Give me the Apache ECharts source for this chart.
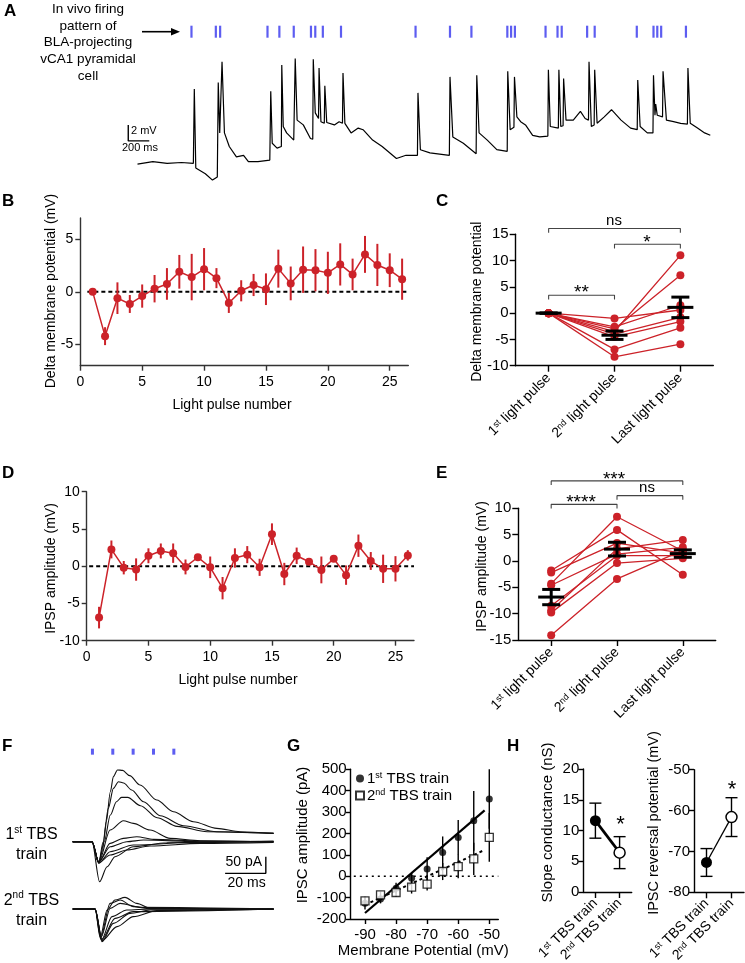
<!DOCTYPE html>
<html lang="en">
<head>
<meta charset="UTF-8">
<title>vCA1 BLA-projecting cell figure</title>
<script src="https://cdn.jsdelivr.net/npm/echarts@6.0.0/dist/echarts.min.js"></script>
<style>
    html, body { margin: 0; padding: 0; background: #fff; }
    #main { width: 745px; height: 963px; }
</style>
</head>
<body>
<div id="main"></div>
<script type="text/javascript">
// ---------- A: in vivo trace (ms, mV) ----------
var aTime = [0,146,282,419,532,541,555,646,714,760,769,783,800,805,828,874,942,1010,1056,1147,1260,1269,1283,1329,1370,1374,1388,1420,1488,1497,1502,1520,1579,1647,1669,1674,1693,1724,1729,1747,1779,1784,1802,1875,1920,1952,1957,1975,2034,2102,2148,2239,2330,2466,2557,2666,2671,2694,2785,2970,2976,3003,3103,3225,3231,3253,3331,3422,3521,3526,3549,3585,3590,3613,3649,3695,3763,3831,3908,3913,3931,4008,4013,4031,4053,4058,4081,4150,4218,4263,4295,4300,4322,4349,4354,4377,4445,4514,4605,4696,4759,4764,4787,4855,4909,4914,4928,4935,4950,5000,5005,5037,5105,5173,5237,5242,5264,5333,5401,5455];
var aVm = [-0.1,0.2,0.0,0.1,0.0,9.3,-0.6,-1.3,-2.1,-1.7,10.1,3.8,3.6,12.7,3.8,2.1,0.8,1.0,0.2,0.2,0.4,9.0,2.5,1.9,2.1,12.3,4.6,3.8,2.9,2.9,13.1,5.4,4.8,3.1,3.0,13.0,6.3,5.6,11.9,5.2,5.0,9.7,5.1,4.8,5.2,5.0,11.3,5.0,3.8,4.4,4.2,2.9,2.1,0.6,1.0,1.0,8.8,1.7,1.3,1.0,10.8,3.3,2.5,1.2,11.0,3.8,2.9,1.7,1.5,11.5,4.2,4.5,10.8,5.8,5.2,4.8,3.5,3.3,3.4,11.7,4.6,4.4,11.7,4.6,4.7,10.6,5.4,5.4,6.5,5.6,5.4,12.7,4.6,4.8,11.7,5.0,5.8,6.7,5.4,4.4,4.2,10.4,4.6,3.8,3.8,11.0,6.0,7.4,6.0,5.8,11.5,5.4,5.2,5.0,4.9,11.9,5.0,4.4,3.8,3.5];
var spikeTimes = [514,746,787,1238,1351,1488,1652,1693,1765,1938,2648,2976,3180,3522,3558,3594,3886,4000,4040,4282,4354,4755,4914,4950,4987,5223];

// ---------- B: delta membrane potential per pulse ----------
var pulseNum = [1,2,3,4,5,6,7,8,9,10,11,12,13,14,15,16,17,18,19,20,21,22,23,24,25,26];
var deltaVm = [0,-4.2,-0.6,-1.15,-0.4,0.3,0.75,1.9,1.4,2.15,1.3,-1.05,0.1,0.65,0.25,2.2,0.8,2.1,2.05,1.8,2.6,1.65,3.55,2.55,2.05,1.2];
var deltaVmSem = [0,0.85,1.5,0.85,1.1,1.3,1.5,1.6,2.2,2.0,0.95,0.95,1.0,1.05,1.5,1.8,1.6,2.2,2.0,2.0,2.0,1.5,1.75,2.0,1.6,1.95];

// ---------- C: paired cells ----------
var pulseCats = ['1st light pulse', '2nd light pulse', 'Last light pulse'];
var cFirst = [0,0,0,0,0,0,0,0];
var cSecond = [-3.5,-3.0,-1.0,-2.6,-4.0,-4.5,-6.9,-8.3];
var cLast = [11,7.2,0.6,1.5,-0.8,-1.6,-2.8,-5.9];
var cMean = [0,-4.2,1.1];
var cSem = [0,0.8,1.95];
var cBrackets = [[0,2,16.1,'ns'],[1,2,13.1,'*'],[0,1,3.4,'**']];

// ---------- D: IPSP amplitude per pulse ----------
var ipsp = [-6.9,2.25,-0.2,-0.45,1.4,2.05,1.75,-0.1,1.2,-0.15,-2.95,1.1,1.55,-0.15,4.3,-1.05,1.4,0.6,-0.5,1.0,-1.2,2.75,0.7,-0.35,-0.35,1.45];
var ipspSem = [1.45,1.2,0.9,1.5,1.0,1.0,1.3,1.0,0.25,1.45,1.5,1.3,1.15,1.15,1.45,1.5,1.1,0.2,1.8,0.3,1.3,1.5,1.2,1.9,1.7,0.7];

// ---------- E: paired IPSP ----------
var eFirst = [-4.3,-1.8,-2.2,-9.4,-4.6,-8.5,-9.8,-14.1];
var eSecond = [8.4,5.9,3.4,2.3,1.3,1.0,-0.4,-3.4];
var eLast = [1.9,-2.6,1.5,4.0,2.6,1.0,0.5,2.0];
var eMean = [-6.85,2.25,1.4];
var eSem = [1.45,1.3,0.7];
var eBrackets = [[0,2,15.2,'***'],[1,2,12.4,'ns'],[0,1,10.75,'****']];

// ---------- F: IPSC traces (ms, pA) ----------
var lightPulses = [9.7,19.7,29.7,39.7,49.7];
var train1 = [
    [[0,0],[9.5,0],[12.8,-62],[14.5,-30],[16.5,60],[18.5,150],[20,195],[22,215],[24.5,214],[28,198],[33.1,170],[41.3,125],[49.5,90],[59.3,60],[70.8,40],[82.3,30],[98.7,25]],
    [[0,0],[9.5,0],[12.8,-62],[15,0],[17.5,100],[20,160],[22.5,180],[25,176],[29,155],[34.8,120],[43,78],[54.4,48],[70.8,30],[98.7,25]],
    [[0,0],[9.5,0],[12.8,-62],[15.5,0],[18.5,80],[21.5,120],[24,133],[27,133],[33.3,108],[41.5,72],[51.3,46],[66.1,30],[98.7,25]],
    [[0,0],[9.5,0],[12.8,-62],[18.4,35],[24.9,63],[29.8,55],[38,35],[47.9,10],[62.6,3],[98.7,0]],
    [[0,0],[9.5,0],[12.8,-62],[18.4,-5],[24.9,10],[31.5,15],[39.7,7],[62.6,2],[98.7,0]],
    [[0,0],[9.5,0],[12.8,-60],[18.4,-15],[26.6,0],[34.8,5],[62.6,0],[98.7,0]],
    [[0,0],[9.5,0],[13.2,-120],[16.9,-75],[20.8,-45],[29.8,-15],[46.2,-3],[98.7,0]],
    [[0,0],[9.5,0],[12.8,-63],[18.4,-40],[26.6,-25],[38,-13],[62.6,-5],[98.7,-2]],
    [[0,0],[9.5,0],[12.8,-65],[18.4,-30],[29.8,-10],[62.6,-1],[98.7,2]]
];
var train2 = [
    [[0,0],[11,0],[13.6,-83],[16.9,-3],[20.8,27],[25.7,35],[31.5,17],[38,2],[98.7,0]],
    [[0,0],[11,0],[13.6,-88],[18.4,17],[23.3,27],[29.8,7],[39.7,0],[98.7,-1]],
    [[0,0],[11,0],[14.1,-93],[19.3,-23],[26.6,-3],[38,0],[98.7,0]],
    [[0,0],[11,0],[14.4,-98],[20,-43],[28.2,-13],[38,-3],[98.7,0]],
    [[0,0],[11,0],[14.4,-95],[21.8,-53],[29.8,-23],[41.3,-5],[98.7,0]],
    [[0,0],[11,0],[14.4,-91],[20.8,-28],[29.8,-8],[98.7,0]],
    [[0,0],[11,0],[14.1,-83],[18.4,2],[23.3,17],[33.1,5],[98.7,0]]
];

// ---------- G: I-V ----------
var vm = [-90,-85,-80,-75,-70,-65,-60,-55,-50];
var ipsc1 = [-126,-107,-56,-9,34,111,181,259,361];
var ipsc1Sem = [30,20,25,25,55,75,82,140,139];
var ipsc2 = [-115,-87,-76,-51,-37,22,45,81,182];
var ipsc2Sem = [15,15,20,30,30,40,55,75,114];
var fit1 = [[-90,-172],[-51.5,308]];
var fit2 = [[-90,-134],[-51.5,123]];

// ---------- H ----------
var tbsCats = ['1st TBS train', '2nd TBS train'];
var slopeG = [11.6, 6.4];
var slopeGSem = [2.85, 2.6];
var erev = [-72.7, -61.6];
var erevSem = [3.4, 4.75];

// ---------- helpers ----------
var FONT = '"Liberation Sans", Arial, Helvetica, sans-serif';
var RED = '#cc2229';
var BLUE = '#3434ee';

function supFmt(v) { return v.replace(/^(\d)(st|nd)/, '$1{s|$2}'); }
var supRich = { s: { fontSize: 9, verticalAlign: 'top', fontFamily: FONT, color: '#000', padding: [0, 0, 4, 0] } };

function valueAxis(grid, min, max, o) {
    o = o || {};
    var c = o.color || '#000';
    var ax = {
        gridIndex: grid, type: 'value', min: min, max: max,
        axisLine: { show: true, onZero: false, lineStyle: { color: c, width: o.lw || 1.4 } },
        axisTick: { show: true, inside: false, length: o.tick || 5, lineStyle: { color: c, width: o.lw || 1.4 } },
        axisLabel: { color: '#000', fontSize: o.fs || 14, fontFamily: FONT, margin: o.margin || 7 },
        splitLine: { show: false }
    };
    if (o.interval) ax.interval = o.interval;
    if (o.ticks) { ax.axisTick.customValues = o.ticks; ax.axisLabel.customValues = o.ticks; }
    return ax;
}
function catAxis(grid, cats, o) {
    o = o || {};
    return {
        gridIndex: grid, type: 'category', data: cats, boundaryGap: true,
        axisLine: { show: true, onZero: false, lineStyle: { color: '#000', width: 1.4 } },
        axisTick: { show: true, alignWithLabel: true, length: o.tick || 6, lineStyle: { color: '#000', width: 1.4 } },
        axisLabel: { rotate: 45, interval: 0, margin: o.margin || 10, color: '#000', fontSize: o.fs || 14, fontFamily: FONT,
                     formatter: supFmt, rich: supRich },
        splitLine: { show: false }
    };
}
function hiddenAxis(grid, min, max) { return { gridIndex: grid, type: 'value', min: min, max: max, show: false }; }

function errorBars(ax, data, color, width, capHalf, z) {
    return {
        type: 'custom', xAxisIndex: ax, yAxisIndex: ax, z: z || 3, silent: true, data: data,
        renderItem: function (p, api) {
            var x = api.value(0), y = api.value(1), e = api.value(2);
            var hi = api.coord([x, y + e]), lo = api.coord([x, y - e]);
            var st = { stroke: color, lineWidth: width };
            var ch = [{ type: 'line', shape: { x1: hi[0], y1: hi[1], x2: lo[0], y2: lo[1] }, style: st }];
            if (capHalf) {
                ch.push({ type: 'line', shape: { x1: hi[0] - capHalf, y1: hi[1], x2: hi[0] + capHalf, y2: hi[1] }, style: st });
                ch.push({ type: 'line', shape: { x1: lo[0] - capHalf, y1: lo[1], x2: lo[0] + capHalf, y2: lo[1] }, style: st });
            }
            return { type: 'group', children: ch };
        }
    };
}
function meanSem(ax, means, sems) {
    return {
        type: 'custom', xAxisIndex: ax, yAxisIndex: ax, z: 6, silent: true,
        data: means.map(function (m, i) { return [i, m, sems[i]]; }),
        renderItem: function (p, api) {
            var x = api.value(0), y = api.value(1), e = api.value(2);
            var c = api.coord([x, y]), hi = api.coord([x, y + e]), lo = api.coord([x, y - e]);
            var st = { stroke: '#000', lineWidth: 3 };
            return { type: 'group', children: [
                { type: 'line', shape: { x1: c[0] - 13, y1: c[1], x2: c[0] + 13, y2: c[1] }, style: st },
                { type: 'line', shape: { x1: hi[0], y1: hi[1], x2: lo[0], y2: lo[1] }, style: st },
                { type: 'line', shape: { x1: hi[0] - 9, y1: hi[1], x2: hi[0] + 9, y2: hi[1] }, style: st },
                { type: 'line', shape: { x1: lo[0] - 9, y1: lo[1], x2: lo[0] + 9, y2: lo[1] }, style: st }
            ] };
        }
    };
}
function bracketSeries(ax, br) {
    var drop = 0.8;
    return br.map(function (b) {
        return { type: 'line', xAxisIndex: ax, yAxisIndex: ax, clip: false, symbol: 'none', silent: true, z: 2,
                 data: [[b[0], b[2] - drop], [b[0], b[2]], [b[1], b[2]], [b[1], b[2] - drop]],
                 lineStyle: { color: '#444', width: 1.1 } };
    });
}
function pairedLines(ax, a, b, c) {
    return a.map(function (v, i) {
        return { type: 'line', xAxisIndex: ax, yAxisIndex: ax, data: [v, b[i], c[i]], symbol: 'circle', symbolSize: 8,
                 itemStyle: { color: RED }, lineStyle: { color: RED, width: 1.3 }, z: 3, silent: true };
    });
}
function zip(xs, ys) { return xs.map(function (x, i) { return [x, ys[i]]; }); }
function zip3(xs, ys, es) { return xs.map(function (x, i) { return [x, ys[i], es[i]]; }); }
function txt(str, x, y, o) {
    o = o || {};
    var st = { text: str, fill: '#000', fontSize: o.fs || 14, fontFamily: FONT, fontWeight: o.fw || 'normal',
               align: o.align || 'center', verticalAlign: o.va || 'middle' };
    if (o.lh) st.lineHeight = o.lh;
    if (o.rich) st.rich = o.rich;
    return { type: 'text', x: x, y: y, rotation: o.rot || 0, silent: true, z: 100, style: st };
}

// ---------- layout ----------
var gridBox = [
    [127, 19.3, 583.3, 168],     // A
    [80.3, 218, 328, 147.7],     // B
    [515.7, 234.3, 197.6, 131.4],// C
    [86.7, 491.7, 327.3, 149],   // D
    [518.3, 508.3, 197.4, 131.7],// E
    [72.7, 745, 203.5, 146.7],   // F 1st train
    [72.7, 889, 203.5, 60],      // F 2nd train
    [350.7, 769.3, 147.6, 149.7],// G
    [583.3, 769, 48.4, 123],     // H slope
    [694, 769.7, 50, 122.6]      // H reversal
];
var grids = gridBox.map(function (g) {
    return { left: g[0], top: g[1], width: g[2], height: g[3], containLabel: false, outerBoundsMode: 'none' };
});

var xAxes = [
    hiddenAxis(0, -100, 5455),
    valueAxis(1, 0, 26.5, { color: '#333', ticks: [0,5,10,15,20,25], margin: 9 }),
    catAxis(2, pulseCats),
    valueAxis(3, 0, 26.5, { color: '#333', ticks: [0,5,10,15,20,25], margin: 9 }),
    catAxis(4, pulseCats),
    hiddenAxis(5, 0, 100),
    hiddenAxis(6, 0, 100),
    valueAxis(7, -94.6, -47.1, { ticks: [-90,-80,-70,-60,-50], fs: 15, margin: 8 }),
    catAxis(8, tbsCats, { fs: 14, margin: 9 }),
    catAxis(9, tbsCats, { fs: 14, margin: 9 })
];
var yAxes = [
    hiddenAxis(0, -3, 18),
    valueAxis(1, -7, 7, { color: '#333', ticks: [-5,0,5] }),
    valueAxis(2, -10, 15, { interval: 5, tick: 6, fs: 15 }),
    valueAxis(3, -10, 10, { color: '#333', interval: 5 }),
    valueAxis(4, -15, 10, { interval: 5, tick: 6, fs: 15 }),
    hiddenAxis(5, -150, 290),
    hiddenAxis(6, -120, 60),
    valueAxis(7, -200, 500, { interval: 100, fs: 15, margin: 4 }),
    valueAxis(8, 0, 20, { interval: 5, fs: 15, margin: 4 }),
    valueAxis(9, -80, -50, { interval: 10, fs: 15, margin: 4 })
];

var series = [];
// A
series.push({ type: 'line', xAxisIndex: 0, yAxisIndex: 0, data: zip(aTime, aVm), symbol: 'none', silent: true,
              lineStyle: { color: '#000', width: 1.2 } });
series.push({ type: 'scatter', xAxisIndex: 0, yAxisIndex: 0, silent: true,
              data: spikeTimes.map(function (t) { return [t, 16.45]; }),
              symbol: 'rect', symbolSize: [2.2, 12], itemStyle: { color: BLUE } });
series.push({ type: 'line', xAxisIndex: 0, yAxisIndex: 0, symbol: 'none', silent: true,
              data: [[-88, 4.8], [-88, 2.8], [-88 + 200, 2.8]], lineStyle: { color: '#000', width: 1.4 } });
// B
series.push({ type: 'line', xAxisIndex: 1, yAxisIndex: 1, symbol: 'none', silent: true, z: 1,
              data: [[0.57, 0], [26.5, 0]], lineStyle: { color: '#000', width: 2, type: [4, 3] } });
series.push(errorBars(1, zip3(pulseNum, deltaVm, deltaVmSem).filter(function (d) { return d[2] > 0; }), RED, 2, 0, 3));
series.push({ type: 'line', xAxisIndex: 1, yAxisIndex: 1, data: zip(pulseNum, deltaVm), symbol: 'circle', symbolSize: 8,
              silent: true, itemStyle: { color: RED }, lineStyle: { color: RED, width: 1.5 }, z: 4 });
// C
series = series.concat(pairedLines(2, cFirst, cSecond, cLast));
series.push(meanSem(2, cMean, cSem));
series = series.concat(bracketSeries(2, cBrackets));
// D
series.push({ type: 'line', xAxisIndex: 3, yAxisIndex: 3, symbol: 'none', silent: true, z: 1,
              data: [[0.2, 0], [26.5, 0]], lineStyle: { color: '#000', width: 2, type: [4, 3] } });
series.push(errorBars(3, zip3(pulseNum, ipsp, ipspSem), RED, 2, 0, 3));
series.push({ type: 'line', xAxisIndex: 3, yAxisIndex: 3, data: zip(pulseNum, ipsp), symbol: 'circle', symbolSize: 8,
              silent: true, itemStyle: { color: RED }, lineStyle: { color: RED, width: 1.5 }, z: 4 });
// E
series = series.concat(pairedLines(4, eFirst, eSecond, eLast));
series.push(meanSem(4, eMean, eSem));
series = series.concat(bracketSeries(4, eBrackets));
// F
train1.forEach(function (tr) {
    series.push({ type: 'line', xAxisIndex: 5, yAxisIndex: 5, data: tr, symbol: 'none', smooth: 0.3, smoothMonotone: 'x',
                  silent: true, lineStyle: { color: '#111', width: 1.1 } });
});
train2.forEach(function (tr) {
    series.push({ type: 'line', xAxisIndex: 6, yAxisIndex: 6, data: tr, symbol: 'none', smooth: 0.3, smoothMonotone: 'x',
                  silent: true, lineStyle: { color: '#111', width: 1.1 } });
});
series.push({ type: 'scatter', xAxisIndex: 5, yAxisIndex: 5, silent: true,
              data: lightPulses.map(function (t) { return [t, 270]; }),
              symbol: 'rect', symbolSize: [3, 6], itemStyle: { color: BLUE } });
series.push({ type: 'line', xAxisIndex: 5, yAxisIndex: 5, symbol: 'none', silent: true,
              data: [[94.9 - 20, -95], [94.9, -95], [94.9, -95 + 50]], lineStyle: { color: '#000', width: 1.4 } });
// G
series.push({ type: 'line', xAxisIndex: 7, yAxisIndex: 7, symbol: 'none', silent: true, z: 1,
              data: [[-93.6, 0], [-47.1, 0]], lineStyle: { color: '#000', width: 1.5, type: [2, 4] } });
series.push({ type: 'line', xAxisIndex: 7, yAxisIndex: 7, symbol: 'none', silent: true, z: 2,
              data: fit1, lineStyle: { color: '#000', width: 2.2 } });
series.push({ type: 'line', xAxisIndex: 7, yAxisIndex: 7, symbol: 'none', silent: true, z: 2,
              data: fit2, lineStyle: { color: '#000', width: 2, type: [3, 3] } });
series.push(errorBars(7, zip3(vm, ipsc1, ipsc1Sem), '#000', 1.4, 0, 3));
series.push(errorBars(7, zip3(vm, ipsc2, ipsc2Sem), '#000', 1.4, 0, 3));
series.push({ name: '1st TBS train', type: 'scatter', xAxisIndex: 7, yAxisIndex: 7, data: zip(vm, ipsc1), silent: true,
              symbol: 'circle', symbolSize: 7, itemStyle: { color: '#000' }, z: 5 });
series.push({ name: '2nd TBS train', type: 'scatter', xAxisIndex: 7, yAxisIndex: 7, data: zip(vm, ipsc2), silent: true,
              symbol: 'rect', symbolSize: 8, itemStyle: { color: '#fff', borderColor: '#000', borderWidth: 1.3 }, z: 5 });
// H
series.push(errorBars(8, [[0, slopeG[0], slopeGSem[0]], [1, slopeG[1], slopeGSem[1]]], '#000', 1.4, 6, 2));
series.push({ type: 'line', xAxisIndex: 8, yAxisIndex: 8, symbol: 'circle', symbolSize: 11, silent: true, z: 4,
              data: [{ value: slopeG[0], itemStyle: { color: '#000' } },
                     { value: slopeG[1], itemStyle: { color: '#fff', borderColor: '#000', borderWidth: 1.5 } }],
              lineStyle: { color: '#000', width: 2.7 } });
series.push(errorBars(9, [[0, erev[0], erevSem[0]], [1, erev[1], erevSem[1]]], '#000', 1.4, 6, 2));
series.push({ type: 'line', xAxisIndex: 9, yAxisIndex: 9, symbol: 'circle', symbolSize: 11, silent: true, z: 4,
              data: [{ value: erev[0], itemStyle: { color: '#000' } },
                     { value: erev[1], itemStyle: { color: '#fff', borderColor: '#000', borderWidth: 1.5 } }],
              lineStyle: { color: '#000', width: 1.3 } });

// ---------- text ----------
var R90 = Math.PI / 2;
var graphics = [
    txt('A', 4, 3, { fs: 17, fw: 'bold', align: 'left', va: 'top' }),
    txt('B', 2, 192.5, { fs: 17, fw: 'bold', align: 'left', va: 'top' }),
    txt('C', 436, 192.5, { fs: 17, fw: 'bold', align: 'left', va: 'top' }),
    txt('D', 2, 464.5, { fs: 17, fw: 'bold', align: 'left', va: 'top' }),
    txt('E', 436, 464.5, { fs: 17, fw: 'bold', align: 'left', va: 'top' }),
    txt('F', 2, 737.5, { fs: 17, fw: 'bold', align: 'left', va: 'top' }),
    txt('G', 287, 737.5, { fs: 17, fw: 'bold', align: 'left', va: 'top' }),
    txt('H', 507, 737.5, { fs: 17, fw: 'bold', align: 'left', va: 'top' }),
    txt('In vivo firing\npattern of\nBLA-projecting\nvCA1 pyramidal\ncell', 88, 42.5, { fs: 13.5, lh: 16.7 }),
    { type: 'polyline', silent: true, shape: { points: [[142, 31.7], [173, 31.7]] }, style: { stroke: '#000', lineWidth: 1.6 } },
    { type: 'polygon', silent: true, shape: { points: [[180, 31.7], [171, 28], [171, 35.4]] }, style: { fill: '#000' } },
    txt('2 mV', 131, 131, { fs: 11, align: 'left' }),
    txt('200 ms', 140, 148, { fs: 11 }),
    // axis titles
    txt('Delta membrane potential (mV)', 51.5, 291, { rot: R90 }),
    txt('Light pulse number', 232, 405),
    txt('Delta membrane potential', 476.7, 301.7, { rot: R90 }),
    txt('IPSP amplitude (mV)', 50.8, 568.5, { rot: R90 }),
    txt('Light pulse number', 238, 680),
    txt('IPSP amplitude (mV)', 481.7, 566.5, { rot: R90 }),
    txt('IPSC amplitude (pA)', 303, 835, { rot: R90, fs: 15 }),
    txt('Membrane Potential (mV)', 423.3, 951, { fs: 15 }),
    txt('Slope conductance (nS)', 547.5, 822.5, { rot: R90, fs: 15 }),
    txt('IPSC reversal potential (mV)', 654, 823, { rot: R90, fs: 14.5 }),
    // significance
    txt('ns', 614, 220.7, { fs: 15 }),
    txt('*', 647, 242.7, { fs: 19 }),
    txt('**', 581.5, 293, { fs: 19 }),
    txt('***', 614, 480, { fs: 19 }),
    txt('ns', 647, 488, { fs: 15 }),
    txt('****', 581, 503, { fs: 19 }),
    txt('*', 620.5, 824.8, { fs: 22 }),
    txt('*', 732, 789.8, { fs: 22 }),
    // F labels
    txt('1{s|st} TBS\ntrain', 31.5, 845, { fs: 16, lh: 20, rich: { s: { fontSize: 10, verticalAlign: 'top', lineHeight: 20 } } }),
    txt('2{s|nd} TBS\ntrain', 31.5, 910.5, { fs: 16, lh: 20, rich: { s: { fontSize: 10, verticalAlign: 'top', lineHeight: 20 } } }),
    txt('50 pA', 262, 862, { fs: 14, align: 'right' }),
    txt('20 ms', 265.7, 883, { fs: 14, align: 'right' })
];

var chart = echarts.init(document.getElementById('main'), null, { renderer: 'canvas' });
chart.setOption({
    backgroundColor: '#fff',
    animation: false,
    grid: grids,
    xAxis: xAxes,
    yAxis: yAxes,
    legend: {
        left: 355, top: 771, orient: 'vertical', itemGap: 2, itemWidth: 8, itemHeight: 8, padding: 0,
        selectedMode: false, data: ['1st TBS train', '2nd TBS train'],
        formatter: supFmt,
        textStyle: { fontSize: 15, fontFamily: FONT, color: '#000', padding: [0, 0, 0, -2], rich: supRich }
    },
    series: series,
    graphic: graphics
});
</script>
</body>
</html>
